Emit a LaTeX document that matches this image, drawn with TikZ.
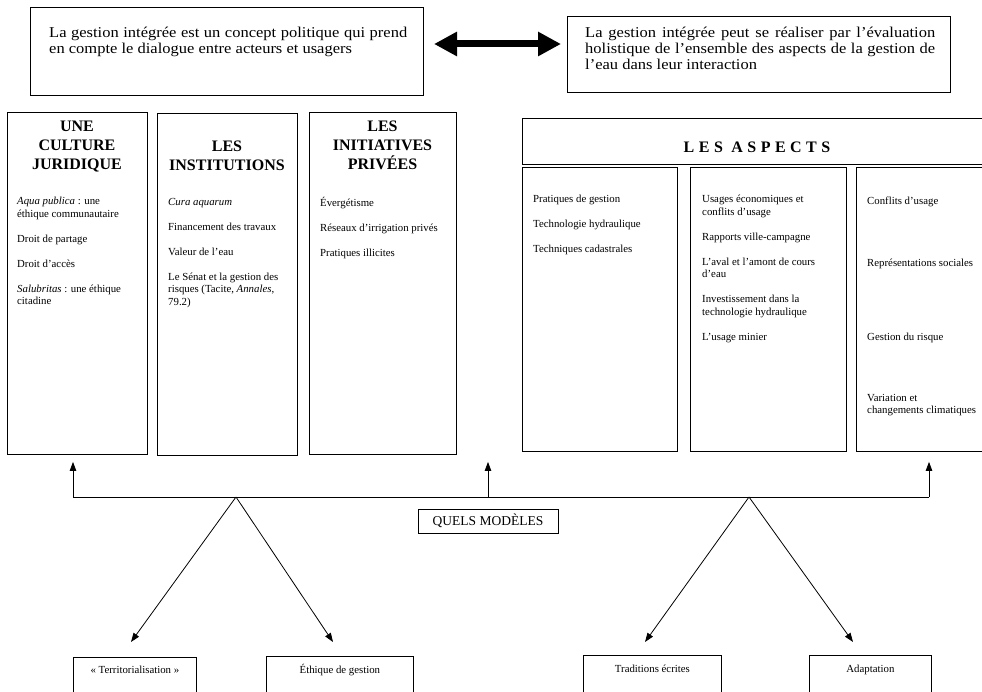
\documentclass[tikz,border=0pt]{standalone}
\usepackage{fontspec}
\setmainfont{Liberation Serif}
\newfontfamily\widefont[FakeStretch=1.1]{Liberation Serif}
\usetikzlibrary{arrows.meta}

\tikzset{
	topbox/.style={draw, line width=0.8pt, anchor=north west, inner sep=0pt},
	toptext/.style={anchor=north west, align=justify, inner sep=0pt, font=\widefont\fontsize{15}{16.2}\selectfont, execute at begin node=\strut},
	colbox/.style={draw, line width=0.9pt, anchor=north west, inner sep=0pt},
	coltitle/.style={anchor=north, align=center, inner sep=0pt, font=\fontsize{16}{19}\selectfont\bfseries, execute at begin node=\strut},
	items/.style={anchor=north west, align=left, inner sep=0pt, font=\fontsize{10.8}{12.5}\selectfont, execute at begin node=\strut},
	lowbox/.style={draw, line width=0.8pt, anchor=north west, inner sep=0pt, minimum height=60pt},
	lowtext/.style={anchor=base, inner sep=0pt, font=\fontsize{10.8}{12.5}\selectfont},
	thinarrow/.style={line width=0.8pt, -{Triangle[length=9pt,width=6.5pt]}},
	fatarrow/.style={line width=7pt, {Triangle[length=23pt,width=23pt]}-{Triangle[length=23pt,width=23pt]}}
}

\begin{document}
\begin{tikzpicture}[x=1pt, y=-1pt]
\useasboundingbox (0,0) rectangle (982,692);
\clip (0,0) rectangle (982,692);
\fill[white] (0,0) rectangle (982,692);
% the two statements
\node[topbox, minimum width=393pt, minimum height=88pt] (topL) at (30,7) {};
\node[toptext, text width=358pt] (topLT) at (49,25.7) {La gestion intégrée est un concept politique qui prend\linebreak en compte le dialogue entre acteurs et usagers};
\node[topbox, minimum width=383pt, minimum height=76pt] (topR) at (567,16) {};
\node[toptext, text width=350pt] (topRT) at (585,26) {La gestion intégrée peut se réaliser par l’évaluation\linebreak holistique de l’ensemble des aspects de la gestion de\linebreak l’eau dans leur interaction};
\coordinate (dl) at (434,44);
\coordinate (dr) at (561,44);
\draw[fatarrow] (dl) -- (dr);
% end of statements
% three columns on the left
\node[colbox, minimum width=140pt, minimum height=342pt] (cult) at (7,112) {};
\node[colbox, minimum width=140pt, minimum height=342pt] (inst) at (157,113) {};
\node[colbox, minimum width=147pt, minimum height=342pt] (priv) at (309,112) {};
\node[coltitle] (cultH) at (77,121) {UNE\\CULTURE\\JURIDIQUE};
\node[coltitle] (instH) at (227,141) {LES\\INSTITUTIONS};
\node[coltitle] (privH) at (382.5,121) {LES\\INITIATIVES\\PRIVÉES};
\node[items] (cultT) at (17,197) {\textit{Aqua publica} : une\\éthique communautaire\\[12.5pt]Droit de partage\\[12.5pt]Droit d’accès\\[12.5pt]\textit{Salubritas} : une éthique\\citadine};
\node[items] (instT) at (168,198) {\textit{Cura aquarum}\\[12.5pt]Financement des travaux\\[12.5pt]Valeur de l’eau\\[12.5pt]Le Sénat et la gestion des\\risques (Tacite, \textit{Annales},\\79.2)};
\node[items] (privT) at (320,197) {Évergétisme\\[12.5pt]Réseaux d’irrigation privés\\[12.5pt]Pratiques illicites};
% end of left columns
% les aspects
\node[colbox, minimum width=470pt, minimum height=46pt] (asp) at (522,118) {};
\node[anchor=base, inner sep=0pt, font=\fontsize{16}{19}\selectfont\bfseries\addfontfeature{LetterSpace=28}] (aspH) at (757,152.5) {LES ASPECTS};
\node[colbox, minimum width=155pt, minimum height=284pt] (aspA) at (522,167) {};
\node[colbox, minimum width=156pt, minimum height=284pt] (aspB) at (690,167) {};
\node[colbox, minimum width=140pt, minimum height=284pt] (aspC) at (856,167) {};
\node[items] (aspAT) at (533,195) {Pratiques de gestion\\[12.5pt]Technologie hydraulique\\[12.5pt]Techniques cadastrales};
\node[items] (aspBT) at (702,195) {Usages économiques et\\conflits d’usage\\[12.5pt]Rapports ville-campagne\\[12.5pt]L’aval et l’amont de cours\\d’eau\\[12.5pt]Investissement dans la\\technologie hydraulique\\[12.5pt]L’usage minier};
\node[items] (conf) at (867,195.5) {Conflits d’usage};
\node[items] (repr) at (867,257.5) {Représentations sociales};
\node[items] (risq) at (867,331.5) {Gestion du risque};
\node[items] (clim) at (867,394) {Variation et\\changements climatiques};
% end of aspects
% quels modeles
\node[draw, line width=0.8pt, minimum width=140pt, minimum height=24pt, inner sep=0pt, font=\fontsize{13.5}{15}\selectfont] (qm) at (488,521) {QUELS MODÈLES};
\coordinate (hl) at (73,497);
\coordinate (hr) at (929,497);
\coordinate (bl) at (236,497);
\coordinate (br) at (749,497);
\draw[line width=0.8pt] (hl) -- (hr);
\draw[thinarrow, shorten >=7pt] (hl) -- (hl |- cult.south);
\draw[thinarrow, shorten >=7pt] (qm.north |- hl) -- (qm.north |- cult.south);
\draw[thinarrow, shorten >=10pt] (hr) -- (hr |- aspC.south);
% four lower boxes
\node[lowbox, minimum width=123pt] (terr) at (73,657) {};
\node[lowbox, minimum width=147pt] (ethi) at (266,656) {};
\node[lowbox, minimum width=138pt] (trad) at (583,655) {};
\node[lowbox, minimum width=122pt] (adap) at (809,655) {};
\node[lowtext] at ([yshift=-16pt]terr.north) {«~Territorialisation~»};
\node[lowtext] at ([yshift=-17pt]ethi.north) {Éthique de gestion};
\node[lowtext] at ([yshift=-17pt]trad.north) {Traditions écrites};
\node[lowtext] at ([yshift=-17pt]adap.north) {Adaptation};
\coordinate (tterr) at (131,642);
\coordinate (tethi) at (333,642);
\coordinate (ttrad) at (645,642);
\coordinate (tadap) at (853,642);
\draw[thinarrow] (bl) -- (tterr);
\draw[thinarrow] (bl) -- (tethi);
\draw[thinarrow] (br) -- (ttrad);
\draw[thinarrow] (br) -- (tadap);
\end{tikzpicture}
\end{document}
